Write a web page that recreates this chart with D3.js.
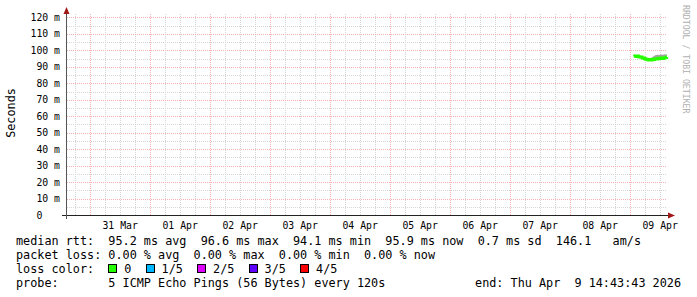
<!DOCTYPE html>
<html>
<head>
<meta charset="utf-8">
<script src="https://cdn.jsdelivr.net/npm/d3@7"></script>
<style>
  body { margin: 0; background: #fff; }
  svg { display: block; }
  text { font-family: "DejaVu Sans Mono", monospace; white-space: pre; }
</style>
</head>
<body>
<div id="root"></div>
<script>
// samples taken on Thu 09 Apr, hours after midnight
const hours = [1.6, 2.0, 2.5, 3.0, 3.5, 4.0, 4.5, 5.0, 5.5, 6.0, 6.5, 7.0, 7.5, 8.0,
  8.5, 9.0, 9.5, 10.0, 10.5, 11.0, 11.5, 12.0, 12.5, 13.0, 13.5, 14.0, 14.5, 14.7];
// median rtt in ms
const medianMs = [96.3, 96.6, 96.3, 96.6, 96.1, 96.0, 95.9, 95.4, 95.3, 94.9, 94.6, 94.5, 94.1, 94.4,
  94.2, 94.6, 94.5, 94.8, 94.7, 95.0, 94.9, 95.2, 95.3, 95.1, 95.4, 95.5, 95.7, 95.9];
// smoke band (spread of the pings) in ms
const smokeLoMs = [96.0, 96.2, 96.0, 96.3, 95.9, 95.8, 95.6, 95.2, 95.0, 94.7, 94.4, 94.2, 93.9, 94.1,
  94.0, 94.3, 94.3, 94.6, 94.5, 94.8, 94.7, 95.0, 95.1, 94.9, 95.2, 95.3, 95.5, 95.7];
const smokeHiMs = [97.4, 97.2, 96.8, 97.0, 96.6, 96.3, 96.2, 95.8, 95.6, 95.3, 94.9, 94.8, 94.5, 94.8,
  95.0, 96.0, 96.6, 97.0, 97.1, 97.3, 97.2, 97.4, 97.5, 97.3, 97.4, 97.6, 97.5, 97.5];

const yTicks = [0, 10, 20, 30, 40, 50, 60, 70, 80, 90, 100, 110, 120];
const dayLabels = ['31 Mar', '01 Apr', '02 Apr', '03 Apr', '04 Apr', '05 Apr', '06 Apr', '07 Apr', '08 Apr', '09 Apr'];
const lossLabels = ['0', '1/5', '2/5', '3/5', '4/5'];
const lossColors = ['#26ff00', '#00b8ff', '#dd00ff', '#5e00ff', '#ff0000'];

const legendLines = [
  'median rtt:  95.2 ms avg  96.6 ms max  94.1 ms min  95.9 ms now  0.7 ms sd  146.1   am/s',
  'packet loss: 0.00 % avg  0.00 % max  0.00 % min  0.00 % now',
  'loss color:',
  'probe:       5 ICMP Echo Pings (56 Bytes) every 120s',
];
const endText = 'end: Thu Apr  9 14:43:43 2026';

const width = 697;
const height = 297;
const plotLeft = 67, plotRight = 667, plotTop = 13, plotBottom = 215;
const cw = 7.1; // legend char width
const end = new Date(Date.UTC(2026, 3, 9, 14, 43, 43));
const start = new Date(end.getTime() - 10 * 864e5);
const apr9 = Date.UTC(2026, 3, 9);

const svg = d3.select('#root').append('svg')
  .attr('width', width).attr('height', height);
svg.append('rect').attr('width', width).attr('height', height).attr('fill', '#fff');

const x = d3.scaleUtc().domain([start, end]).range([plotLeft, plotRight]);
const y = d3.scaleLinear().domain([0, 0.12]).range([plotBottom, 17.4]);

const px = v => Math.round(v) + 0.5;

const grid = svg.append('g').attr('shape-rendering', 'crispEdges');
const minorColor = '#d6d6d6';
const majorColor = '#f2b2b2';

// minor grid
d3.range(5, 121, 10).forEach(v => {
  grid.append('line')
    .attr('x1', plotLeft).attr('x2', plotRight)
    .attr('y1', px(y(v / 1000))).attr('y2', px(y(v / 1000)))
    .attr('stroke', minorColor).attr('stroke-dasharray', '1,1');
});
d3.utcHour.every(6).range(start, end)
  .filter(d => d.getUTCHours() !== 0)
  .forEach(d => {
    grid.append('line')
      .attr('x1', px(x(d))).attr('x2', px(x(d)))
      .attr('y1', plotBottom).attr('y2', plotTop)
      .attr('stroke', minorColor).attr('stroke-dasharray', '1,1');
  });

// major grid
yTicks.filter(v => v > 0).forEach(v => {
  grid.append('line')
    .attr('x1', plotLeft).attr('x2', plotRight)
    .attr('y1', px(y(v / 1000))).attr('y2', px(y(v / 1000)))
    .attr('stroke', majorColor).attr('stroke-dasharray', '1,1');
});
d3.utcDay.range(start, end).forEach(d => {
  grid.append('line')
    .attr('x1', px(x(d))).attr('x2', px(x(d)))
    .attr('y1', plotBottom).attr('y2', plotTop)
    .attr('stroke', majorColor).attr('stroke-dasharray', '1,1');
});

// smoke and median line
const pts = hours.map((h, i) => ({
  t: new Date(apr9 + h * 36e5),
  med: medianMs[i] / 1000,
  lo: smokeLoMs[i] / 1000,
  hi: smokeHiMs[i] / 1000,
}));

svg.append('path')
  .attr('d', d3.area().curve(d3.curveStep).x(d => x(d.t)).y0(d => y(d.lo)).y1(d => y(d.hi))(pts))
  .attr('fill', '#a4a4a4');

svg.append('path')
  .attr('d', d3.line().curve(d3.curveStep).x(d => x(d.t)).y(d => y(d.med))(pts))
  .attr('fill', 'none')
  .attr('stroke', lossColors[0])
  .attr('stroke-width', 3);

// axes
const axis = svg.append('g').attr('shape-rendering', 'crispEdges');
axis.append('line')
  .attr('x1', 62).attr('x2', 670).attr('y1', plotBottom + 0.5).attr('y2', plotBottom + 0.5)
  .attr('stroke', '#222');
axis.append('line')
  .attr('x1', plotLeft - 0.5).attr('x2', plotLeft - 0.5).attr('y1', plotBottom + 4).attr('y2', 11)
  .attr('stroke', '#555');

svg.append('path')
  .attr('d', `M${plotLeft - 3.5},14 L${plotLeft - 0.5},7 L${plotLeft + 2.5},14 Z`)
  .attr('fill', '#a01818');
svg.append('path')
  .attr('d', `M668,${plotBottom - 2.5} L675,${plotBottom + 0.5} L668,${plotBottom + 3.5} Z`)
  .attr('fill', '#a01818');

// y labels
svg.append('g').selectAll('text')
  .data(yTicks)
  .enter()
  .append('text')
  .attr('x', 60)
  .attr('y', v => y(v / 1000) + 3.5)
  .attr('text-anchor', 'end')
  .attr('font-size', '9.8px')
  .attr('fill', '#000')
  .text(v => (v === 0 ? '0   ' : `${v} m`));

// x labels at noon of each day
svg.append('g').selectAll('text')
  .data(dayLabels)
  .enter()
  .append('text')
  .attr('x', (d, i) => x(new Date(Date.UTC(2026, 2, 31, 12) + i * 864e5)))
  .attr('y', 228.5)
  .attr('text-anchor', 'middle')
  .attr('font-size', '9.8px')
  .attr('fill', '#000')
  .text(d => d);

// y title
svg.append('text')
  .attr('transform', 'translate(15,113) rotate(-90)')
  .attr('text-anchor', 'middle')
  .attr('font-size', '11.8px')
  .attr('fill', '#000')
  .text('Seconds');

// watermark
svg.append('text')
  .attr('transform', 'translate(683,5) rotate(90)')
  .attr('text-anchor', 'start')
  .attr('font-size', '8.2px')
  .attr('fill', '#b0b0b0')
  .text('RRDTOOL / TOBI OETIKER');

// legend
const legend = svg.append('g').attr('font-size', '11.8px').attr('fill', '#000');
legendLines.forEach((line, i) => {
  legend.append('text')
    .attr('x', 16)
    .attr('y', 245 + i * 14)
    .text(line);
});
legend.append('text')
  .attr('x', 681)
  .attr('y', 245 + 3 * 14)
  .attr('text-anchor', 'end')
  .text(endText);

let cursor = 16 + 13 * cw;
lossLabels.forEach((lab, i) => {
  legend.append('rect')
    .attr('x', cursor + 0.5).attr('y', 264.5)
    .attr('width', 8).attr('height', 8)
    .attr('fill', lossColors[i])
    .attr('stroke', '#000')
    .attr('shape-rendering', 'crispEdges');
  legend.append('text')
    .attr('x', cursor + 16)
    .attr('y', 245 + 2 * 14)
    .text(lab);
  cursor += 16 + lab.length * cw + 2 * cw;
});
</script>
</body>
</html>
